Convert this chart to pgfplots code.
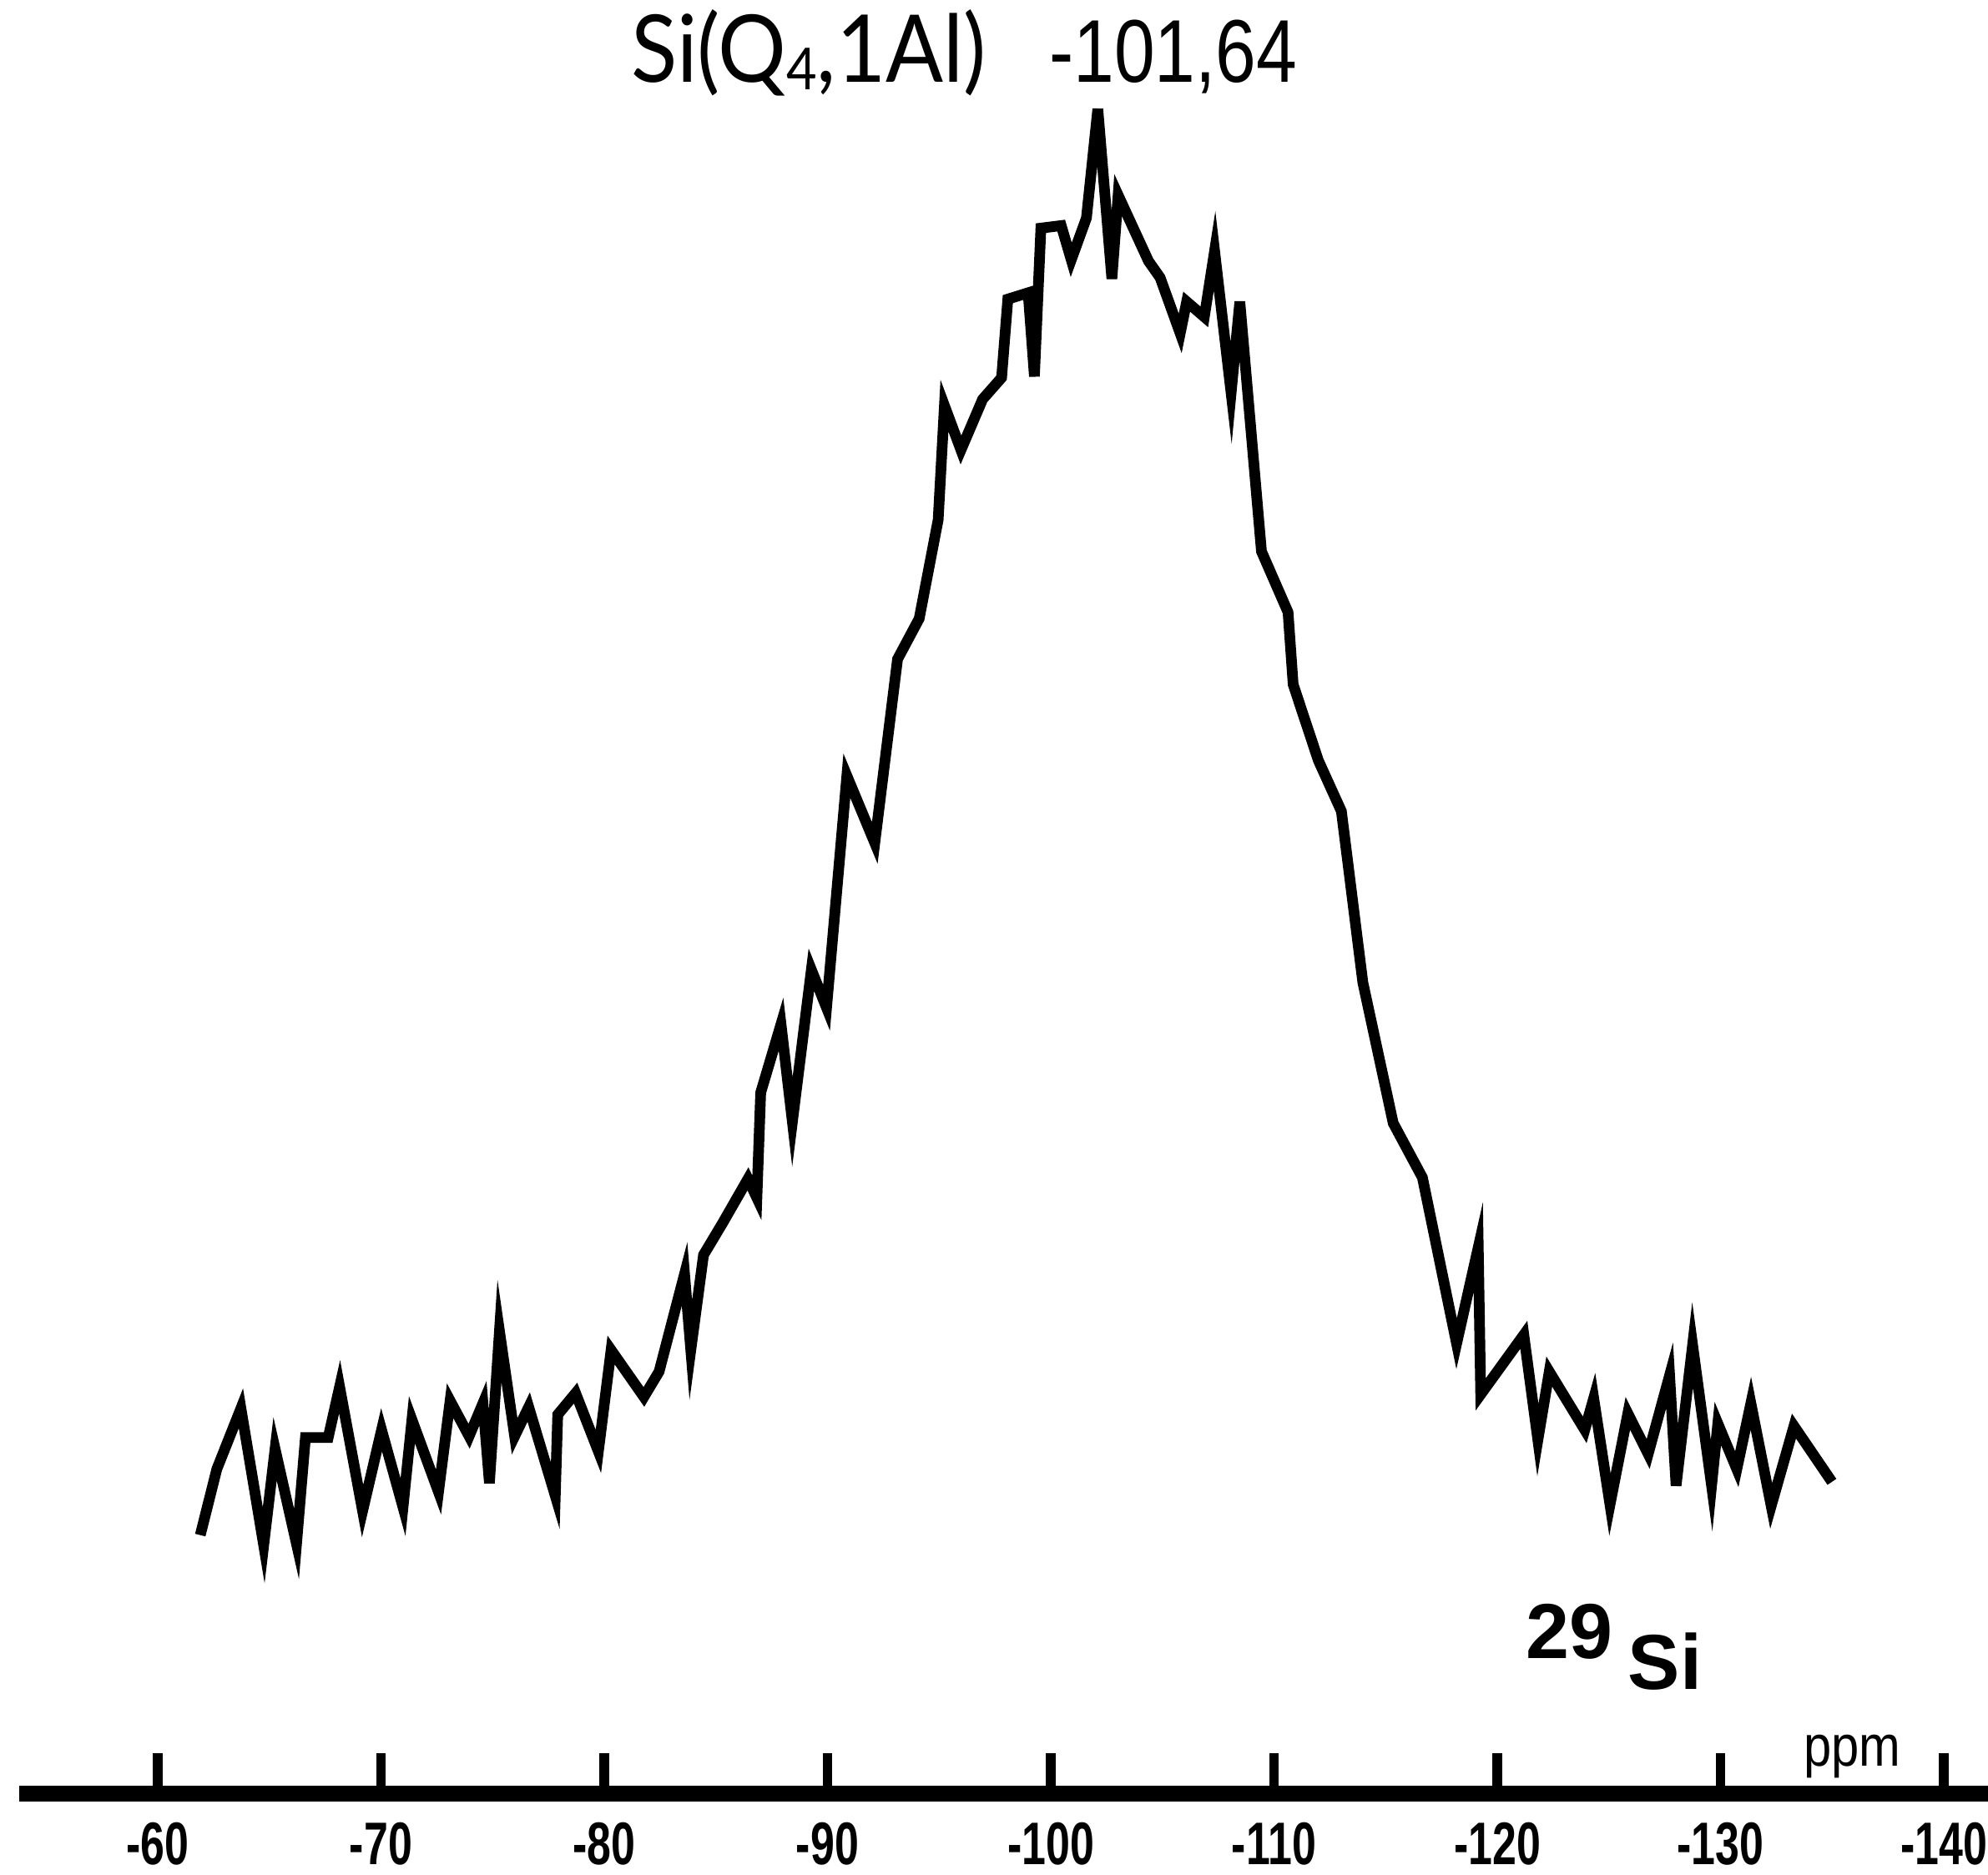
\documentclass[border=0pt]{standalone}
\usepackage{fontspec}
\setmainfont{Liberation Sans}
\newfontfamily\gill{Lato}
\usepackage{graphicx}
\usepackage{pgfplots}
\pgfplotsset{compat=1.18}

% condensed bold tick labels, as in the scanned original
\newcommand{\tl}[1]{\scalebox{0.72}[1]{\bfseries\fontsize{13.5}{13.5}\selectfont #1}}

\begin{document}
\begin{tikzpicture}
\begin{axis}[
  at={(0,0)}, anchor=south west,
  scale only axis, width=15.53cm, height=14.15cm,
  xmin=-141.98, xmax=-53.79, x dir=reverse,
  ymin=0, ymax=14.15,
  axis x line*=bottom, axis y line=none,
  x axis line style={-, line width=3.4pt},
  xtick={-60,-70,-80,-90,-100,-110,-120,-130,-140},
  xticklabels={\tl{-60},\tl{-70},\tl{-80},\tl{-90},\tl{-100},\tl{-110},\tl{-120},\tl{-130},\tl{-140}},
  xticklabel style={anchor=north, inner sep=0pt, yshift=-0.22cm},
  ytick=\empty,
  tick align=inside, major tick length=0.32cm,
  every tick/.style={black, line width=2.2pt},
  clip=false,
]
\addplot[black, line width=2.4pt, line join=miter] coordinates {
  (-61.91,2.04) (-62.65,2.56) (-63.73,3.04) (-64.75,1.96) (-65.26,2.72)
  (-66.22,1.97) (-66.62,2.81) (-67.64,2.81) (-68.15,3.21) (-69.18,2.23)
  (-70.03,2.87) (-70.99,2.26) (-71.39,2.95) (-72.58,2.38) (-73.10,3.10)
  (-73.95,2.82) (-74.57,3.08) (-74.86,2.45) (-75.31,3.65) (-75.99,2.82)
  (-76.62,3.05) (-77.81,2.35) (-77.92,2.99) (-78.72,3.16) (-79.74,2.70)
  (-80.31,3.50) (-81.78,3.13) (-82.46,3.33) (-83.60,4.10) (-83.88,3.50)
  (-84.45,4.25) (-85.30,4.50) (-86.44,4.85) (-86.84,4.70) (-87.01,5.53)
  (-87.92,6.07) (-88.43,5.30) (-89.28,6.50) (-89.96,6.20) (-90.87,8.03)
  (-92.12,7.50) (-93.14,8.95) (-94.11,9.27) (-94.96,10.05) (-95.24,10.95)
  (-95.98,10.60) (-96.95,11.00) (-97.80,11.17) (-98.08,11.79) (-98.99,11.84)
  (-99.27,11.18) (-99.56,12.35) (-100.47,12.37) (-100.92,12.10) (-101.60,12.43)
  (-102.11,13.29) (-102.74,11.95) (-103.02,12.61) (-104.38,12.09) (-104.90,11.96)
  (-105.80,11.52) (-106.09,11.77) (-106.88,11.65) (-107.34,12.17) (-108.08,11.05)
  (-108.47,11.77) (-109.44,9.80) (-110.63,9.32) (-110.86,8.75) (-111.99,8.15)
  (-113.02,7.75) (-113.98,6.40) (-115.34,5.29) (-116.65,4.86) (-118.18,3.55)
  (-119.15,4.31) (-119.26,3.15) (-121.19,3.62) (-121.82,2.79) (-122.33,3.33)
  (-123.92,2.87) (-124.32,3.12) (-125.05,2.28) (-125.85,3.00) (-126.76,2.68)
  (-127.72,3.30) (-128.01,2.43) (-128.75,3.54) (-129.60,2.43) (-129.88,2.92)
  (-130.73,2.56) (-131.36,3.08) (-132.27,2.27) (-133.29,2.90) (-134.99,2.46)
};
\end{axis}

% labels (1 cm = 100 px of the reduced reference)
\node[anchor=base west, inner sep=0pt] at (4.82,13.50)
  {\scalebox{0.91}[1]{\gill\fontsize{21}{21}\selectfont Si(Q\raisebox{-0.08em}{\fontsize{13}{13}\selectfont 4},1Al)}};
\node[anchor=base west, inner sep=0pt] at (8.12,13.50)
  {\scalebox{0.82}[1]{\fontsize{20}{20}\selectfont -101,64}};
\node[anchor=base west, inner sep=0pt] at (11.88,0.82)
  {\bfseries\fontsize{17.5}{17.5}\selectfont\raisebox{0.25cm}{29}\hspace{0.12cm}Si};
\node[anchor=base west, inner sep=0pt] at (14.07,0.22)
  {\scalebox{0.86}[1]{\fontsize{13}{13}\selectfont ppm}};

\pgfresetboundingbox
\useasboundingbox (-0.15,-0.64) rectangle (15.53,14.15);
\end{tikzpicture}
\end{document}
